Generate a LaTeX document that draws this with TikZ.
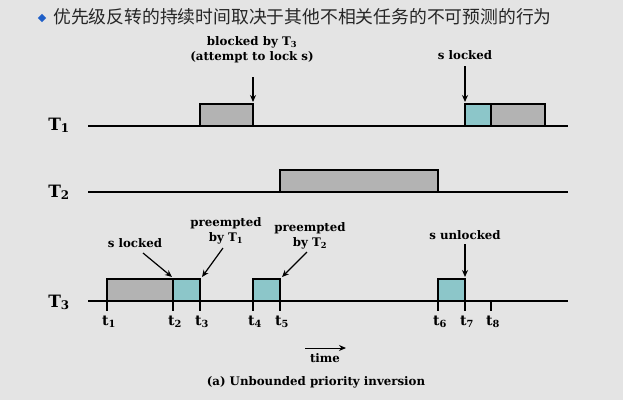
\documentclass[tikz,border=0pt]{standalone}
\usepackage{fontspec}
\setmainfont{DejaVu Serif}
\newfontfamily\cjk{Noto Sans CJK SC}
\usetikzlibrary{arrows.meta}
\definecolor{bg}{HTML}{E4E4E4}
\definecolor{gfill}{HTML}{B3B3B3}
\definecolor{tfill}{HTML}{8CC6C9}
\definecolor{bullet}{HTML}{1F5FC8}
\begin{document}
\begin{tikzpicture}[x=1pt,y=-1pt,
  axis/.style={line width=2pt},
  gbox/.style={draw,line width=2pt,fill=gfill},
  tbox/.style={draw,line width=2pt,fill=tfill},
  lbl/.style={font=\fontsize{11.8}{15}\selectfont\bfseries,align=center,inner sep=1pt},
  tlbl/.style={font=\fontsize{17}{18}\selectfont\bfseries,inner sep=0pt,anchor=base},
  ticklbl/.style={font=\fontsize{14}{15}\selectfont\bfseries,inner sep=0pt,anchor=base},
  arr/.style={-{Stealth[length=7pt,width=6pt]},line width=1.2pt},
  tick/.style={line width=1.5pt}]
\fill[bg] (0,0) rectangle (623,400);
\useasboundingbox (0,0) rectangle (623,400);
% title
\node[fill=bullet,rotate=45,minimum size=6pt,inner sep=0pt] (bul) at (42,18) {};
\node[anchor=west,inner sep=0pt,font=\cjk\fontsize{17.8}{19}\selectfont,text=black!85] (title) at (53,17) {优先级反转的持续时间取决于其他不相关任务的不可预测的行为};
% task labels
\node[tlbl] (T1) at (59,130) {T\textsubscript{1}};
\node[tlbl] (T2) at (59,197) {T\textsubscript{2}};
\node[tlbl] (T3) at (59,307) {T\textsubscript{3}};
% T1
\draw[gbox] (200,104) rectangle (253,126);
\draw[tbox] (465,104) rectangle (491,126);
\draw[gbox] (491,104) rectangle (545,126);
\draw[axis] (88,126) -- (568,126);
% T2
\draw[gbox] (280,170) rectangle (438,192);
\draw[axis] (88,192) -- (568,192);
% T3
\draw[gbox] (107,279) rectangle (173,301);
\draw[tbox] (173,279) rectangle (200,301);
\draw[tbox] (253,279) rectangle (280,301);
\draw[tbox] (438,279) rectangle (465,301);
\draw[axis] (88,301) -- (568,301);
% ticks
\foreach \x/\n in {107/1,173/2,200/3,253/4,280/5,438/6,465/7,491/8}{
  \draw[tick] (\x,301) -- (\x,311);
  \node[ticklbl] (t\n) at (\x+2,325) {t\textsubscript{\n}};
}
% coordinates for arrow targets
\coordinate (a1) at (253,102);
\coordinate (a2) at (465,102);
\coordinate (a3) at (172,277);
\coordinate (a4) at (202,277);
\coordinate (a5) at (282,277);
\coordinate (a6) at (465,277);
% labels
\node[lbl] (blk) at (252,50) {blocked by T\textsubscript{3}\\(attempt to lock s)};
\node[lbl] (sl1) at (465,55) {s locked};
\node[lbl] (sl2) at (135,243) {s locked};
\node[lbl] (pre1) at (226,231) {preempted\\by T\textsubscript{1}};
\node[lbl] (pre2) at (310,236) {preempted\\by T\textsubscript{2}};
\node[lbl] (sun) at (465,235) {s unlocked};
\draw[arr] (253,77) -- (a1);
\draw[arr] (465,66) -- (a2);
\draw[arr] (143,253) -- (a3);
\draw[arr] (223,248) -- (a4);
\draw[arr] (307,252) -- (a5);
\draw[arr] (465,244) -- (a6);
% time
\coordinate (ts) at (305,348);
\coordinate (te) at (346,348);
\draw[arr,line width=1pt] (ts) -- (te);
\node[lbl] (time) at (325,358) {time};
\node[lbl] (cap) at (316,382) {(a) Unbounded priority inversion};
\end{tikzpicture}
\end{document}
